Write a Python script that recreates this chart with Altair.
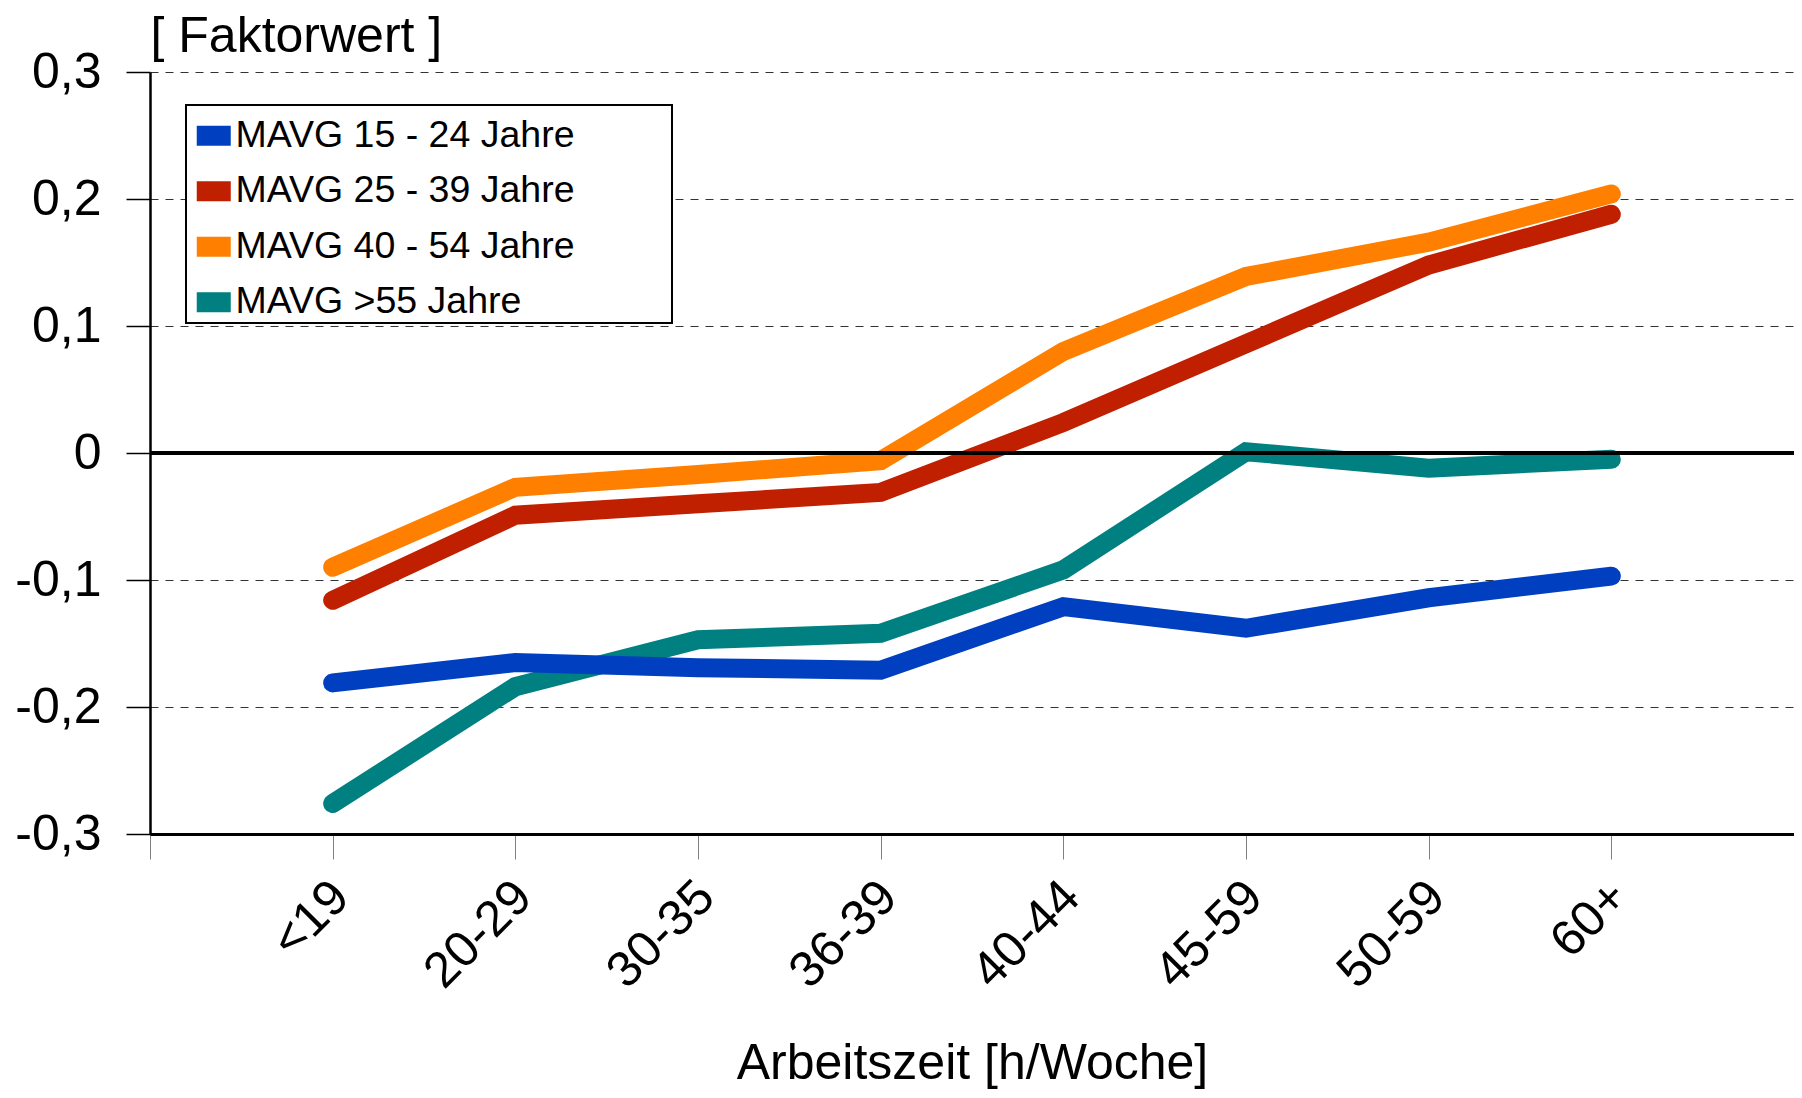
import altair as alt
import pandas as pd

# ---- data ----
categories = ["<19", "20-29", "30-35", "36-39", "40-44", "45-59", "50-59", "60+"]
series_names = ["MAVG 15 - 24 Jahre", "MAVG 25 - 39 Jahre", "MAVG 40 - 54 Jahre", "MAVG >55 Jahre"]
mavg_15_24 = [-0.181, -0.165, -0.169, -0.171, -0.121, -0.138, -0.114, -0.097]
mavg_25_39 = [-0.116, -0.049, -0.040, -0.031, 0.024, 0.086, 0.148, 0.188]
mavg_40_54 = [-0.090, -0.027, -0.017, -0.006, 0.080, 0.139, 0.166, 0.204]
mavg_55 = [-0.276, -0.184, -0.147, -0.142, -0.092, 0.001, -0.012, -0.005]
series_values = [mavg_15_24, mavg_25_39, mavg_40_54, mavg_55]
colors = ["#0040C0", "#C02000", "#FF8000", "#008080"]
y_ticks = [-0.3, -0.2, -0.1, 0.0, 0.1, 0.2, 0.3]

FONT = "Liberation Sans"

# draw order: teal first, blue last (blue lies over teal in the reference)
draw_order = [3, 2, 1, 0]
rows = []
for s in draw_order:
    for i, v in enumerate(series_values[s]):
        rows.append({"pos": i + 1, "Arbeitszeit": categories[i],
                     "series": series_names[s], "value": v})
df = pd.DataFrame(rows)

x_labels = [""] + categories + [""]
x_label_expr = "[" + ",".join("'" + l + "'" for l in x_labels) + "][datum.value]"
y_label_expr = ("datum.value == 0 ? '0' : (datum.value < 0 ? '-' : '') + "
                "replace(format(abs(datum.value), '.1f'), '.', ',')")

# legend swatch: a solid block built from closely spaced horizontal strokes
swatch_path = "".join("M-1,%gH1" % (k / 8.0) for k in range(-4, 5))

x_enc = alt.X(
    "pos:Q",
    scale=alt.Scale(domain=[0, len(categories) + 1], nice=False, zero=False),
    axis=alt.Axis(
        values=list(range(len(categories) + 2)),
        labelExpr=x_label_expr,
        labelAngle=-45, labelAlign="right", labelBaseline="middle",
        labelFontSize=50, labelFont=FONT, labelColor="black",
        labelPadding=30, labelOffset=8,
        tickSize=25, tickColor="#808080", tickWidth=1,
        domainColor="black", domainWidth=3,
        grid=False,
        title="Arbeitszeit [h/Woche]", titleFontSize=50, titleFont=FONT,
        titleFontWeight="normal", titleColor="black",
        titleY=244, titleBaseline="alphabetic",
    ),
)
y_enc = alt.Y(
    "value:Q",
    scale=alt.Scale(domain=[-0.3, 0.3], nice=False, zero=False),
    axis=alt.Axis(
        values=y_ticks,
        labelExpr=y_label_expr,
        labelFontSize=50, labelFont=FONT, labelColor="black", labelPadding=25,
        tickSize=24, tickColor="black", tickWidth=1.5,
        domainColor="black", domainWidth=2.5,
        grid=True, gridColor="#333333", gridWidth=1, gridDash=[8, 7],
        title="[ Faktorwert ]", titleFontSize=50, titleFont=FONT,
        titleFontWeight="normal", titleColor="black",
        titleAngle=0, titleAlign="left", titleBaseline="alphabetic",
        titleX=0, titleY=-21,
    ),
)

lines = alt.Chart(df).mark_line(
    strokeWidth=19, strokeCap="round", strokeJoin="miter"
).encode(
    x=x_enc,
    y=y_enc,
    color=alt.Color(
        "series:N",
        scale=alt.Scale(domain=series_names, range=colors),
        legend=alt.Legend(
            title=None, orient="none", legendX=45, legendY=45,
            padding=0,
            symbolType=swatch_path, symbolSize=1156, symbolStrokeWidth=3,
            labelFontSize=37.5, labelFont=FONT, labelColor="black",
            labelOffset=3, labelLimit=1000, rowPadding=16.5,
        ),
    ),
)

# white legend frame (decoration, in pixel units of the plot area)
legend_frame = alt.Chart(pd.DataFrame({"frame": [0]})).mark_rect(
    fill="white", stroke="black", strokeWidth=2
).encode(
    x=alt.value(36), x2=alt.value(522), y=alt.value(33), y2=alt.value(251)
)

zero_line = alt.Chart(df).mark_rule(color="black", strokeWidth=2.5).encode(
    y=alt.datum(0)
)

chart = alt.layer(legend_frame, lines, zero_line).properties(
    width=1644, height=762,
    autosize=alt.AutoSizeParams(type="none"),
    padding={"left": 142, "top": 64, "right": 0, "bottom": 256},
).configure(font=FONT).configure_view(strokeWidth=0)

chart.save("out.html", embed_options={"renderer": "svg", "actions": False})
